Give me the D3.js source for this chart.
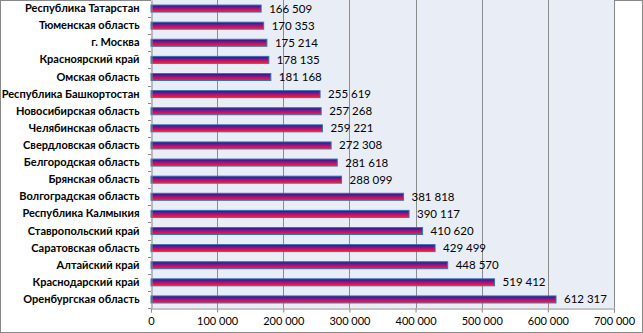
<!DOCTYPE html>
<html><head><meta charset="utf-8">
<script src="https://cdn.jsdelivr.net/npm/d3@7"></script>
<style>body{margin:0;background:#fff}</style>
</head><body>
<svg id="c" width="643" height="333"></svg>
<script>
const categories = ["Республика Татарстан","Тюменская область","г. Москва","Красноярский край","Омская область","Республика Башкортостан","Новосибирская область","Челябинская область","Свердловская область","Белгородская область","Брянская область","Волгоградская область","Республика Калмыкия","Ставропольский край","Саратовская область","Алтайский край","Краснодарский край","Оренбургская область"];
const values = [166509,170353,175214,178135,181168,255619,257268,259221,272308,281618,288099,381818,390117,410620,429499,448570,519412,612317];
const tickValues = [0,100000,200000,300000,400000,500000,600000,700000];

const svg = d3.select("#c");
const W=643,H=333;
const L=151, R=614, T=0, B=308;
const font = "Lato, 'Open Sans', sans-serif";
svg.append("rect").attr("x",0.5).attr("y",0.5).attr("width",W-1).attr("height",H-1).attr("fill","#fff").attr("stroke","#888");

const defs = svg.append("defs");
const g = defs.append("linearGradient").attr("id","bg").attr("x1",0).attr("y1",0).attr("x2",0).attr("y2",1);
[["0%","#1c1c80"],["35%","#6a1a9a"],["65%","#d0105a"],["100%","#ff2030"]].forEach(s=>g.append("stop").attr("offset",s[0]).attr("stop-color",s[1]));

const x = d3.scaleLinear().domain([0,700000]).range([L,R]);
const y = d3.scaleBand().domain(categories).range([T,B]).paddingInner(0.6).paddingOuter(0.3);
const yb = d3.scaleBand().domain(categories).range([T,B]);

svg.append("rect").attr("x",L).attr("y",T).attr("width",R-L).attr("height",B-T).attr("fill","#e9edf6");
svg.append("g").selectAll("line").data(tickValues.slice(1)).join("line")
 .attr("x1",d=>Math.round(x(d))+0.5).attr("x2",d=>Math.round(x(d))+0.5).attr("y1",T).attr("y2",B).attr("stroke","#8c8c8c");

svg.append("g").selectAll("rect").data(values).join("rect")
 .attr("x",L).attr("y",(d,i)=>yb(categories[i])+yb.bandwidth()/2-3.5).attr("height",7)
 .attr("width",d=>x(d)-L).attr("fill","url(#bg)").attr("stroke","#3a72b0").attr("stroke-width",1);

svg.append("g").selectAll("text").data(values).join("text")
 .attr("x",d=>x(d)+8).attr("y",(d,i)=>yb(categories[i])+yb.bandwidth()/2+4)
 .attr("font-family",font).attr("font-size",11.5).attr("fill","#000")
 .text(d=>d3.format(",")(d).replace(/,/g," "));

// category axis
const ya = d3.axisLeft(yb).tickSize(0).tickPadding(12);
const yg = svg.append("g").attr("transform",`translate(${L+0.5},0)`).call(ya);
yg.select(".domain").attr("stroke","#888");
yg.selectAll("text").attr("font-family",font).attr("font-size",11).attr("font-weight","bold").attr("fill","#000");
svg.append("g").selectAll("line").data(d3.range(categories.length+1)).join("line")
 .attr("x1",L-3).attr("x2",L).attr("y1",i=>Math.round(T+i*yb.step())+0.5).attr("y2",i=>Math.round(T+i*yb.step())+0.5).attr("stroke","#888");

const xa = d3.axisBottom(x).tickValues(tickValues).tickSize(4).tickPadding(5).tickFormat(d=>d3.format(",")(d).replace(/,/g," "));
const xg = svg.append("g").attr("transform",`translate(0,${B+0.5})`).call(xa);
xg.select(".domain").attr("stroke","#888");
xg.selectAll("line").attr("stroke","#888");
xg.selectAll("text").attr("font-family",font).attr("font-size",11).attr("fill","#000");
</script>
</body></html>
